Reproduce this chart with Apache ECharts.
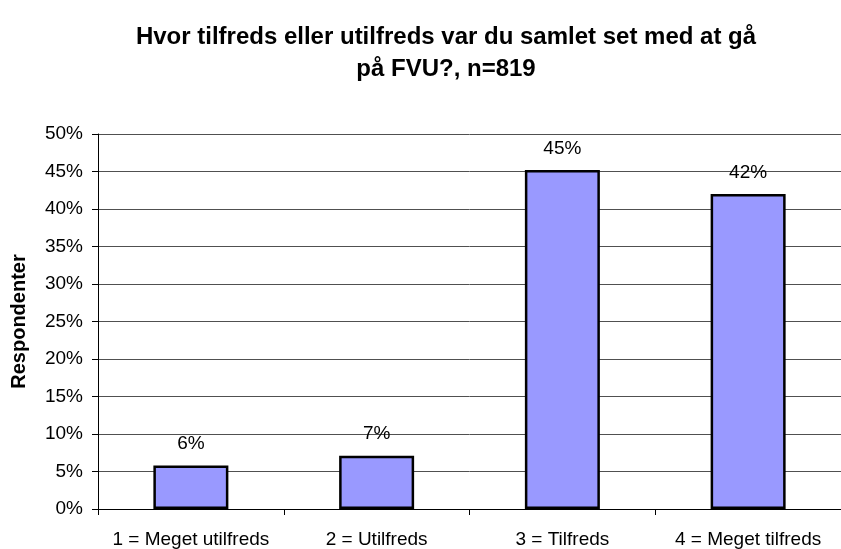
<!DOCTYPE html>
<html>
<head>
<meta charset="utf-8">
<script src="https://cdn.jsdelivr.net/npm/echarts@6/dist/echarts.min.js"></script>
<style>
  html, body { margin: 0; padding: 0; background: #fff; }
  #chart { width: 841px; height: 549px; }
</style>
</head>
<body>
<div id="chart"></div>
<script>
const categories = ["1 = Meget utilfreds", "2 = Utilfreds", "3 = Tilfreds", "4 = Meget tilfreds"];
const values = [5.8, 7.1, 45.2, 42.0];
const yTicks = [0, 5, 10, 15, 20, 25, 30, 35, 40, 45, 50];

const chart = echarts.init(document.getElementById("chart"));

const font = "Liberation Sans, Arial, sans-serif";

const option = {
  animation: false,
  title: {
    text: "Hvor tilfreds eller utilfreds var du samlet set med at gå\npå FVU?, n=819",
    left: 441,
    top: 16,
    textAlign: "center",
    textStyle: {
      fontFamily: font,
      fontSize: 24,
      fontWeight: "bold",
      color: "#000",
      lineHeight: 32
    }
  },
  grid: { left: 98, top: 134, width: 751, height: 375 },
  xAxis: {
    type: "category",
    data: categories,
    axisLine: { lineStyle: { color: "#000", width: 1 } },
    axisTick: { show: true, interval: 0, length: 6, lineStyle: { color: "#000" } },
    axisLabel: {
      interval: 0,
      hideOverlap: false,
      color: "#000",
      fontFamily: font,
      fontSize: 19,
      margin: 21
    }
  },
  yAxis: {
    type: "value",
    min: yTicks[0],
    max: yTicks[yTicks.length - 1],
    interval: 5,
    name: "Respondenter",
    nameLocation: "middle",
    nameGap: 69,
    nameTextStyle: {
      color: "#000",
      fontFamily: font,
      fontSize: 20,
      fontWeight: "bold"
    },
    axisLine: { show: true, lineStyle: { color: "#000" } },
    axisTick: { show: true, length: 6, lineStyle: { color: "#000" } },
    axisLabel: {
      color: "#000",
      fontFamily: font,
      fontSize: 19,
      margin: 15,
      formatter: v => v + "%"
    },
    splitLine: { lineStyle: { color: "#505050", width: 1 } }
  },
  series: [{
    type: "bar",
    data: values,
    barWidth: 75,
    itemStyle: { color: "#9999FF", borderColor: "#000", borderWidth: 2.5 },
    label: {
      show: true,
      position: "top",
      distance: 12,
      color: "#000",
      fontFamily: font,
      fontSize: 19,
      formatter: p => Math.round(p.value) + "%"
    }
  }]
};

chart.setOption(option);
</script>
</body>
</html>
